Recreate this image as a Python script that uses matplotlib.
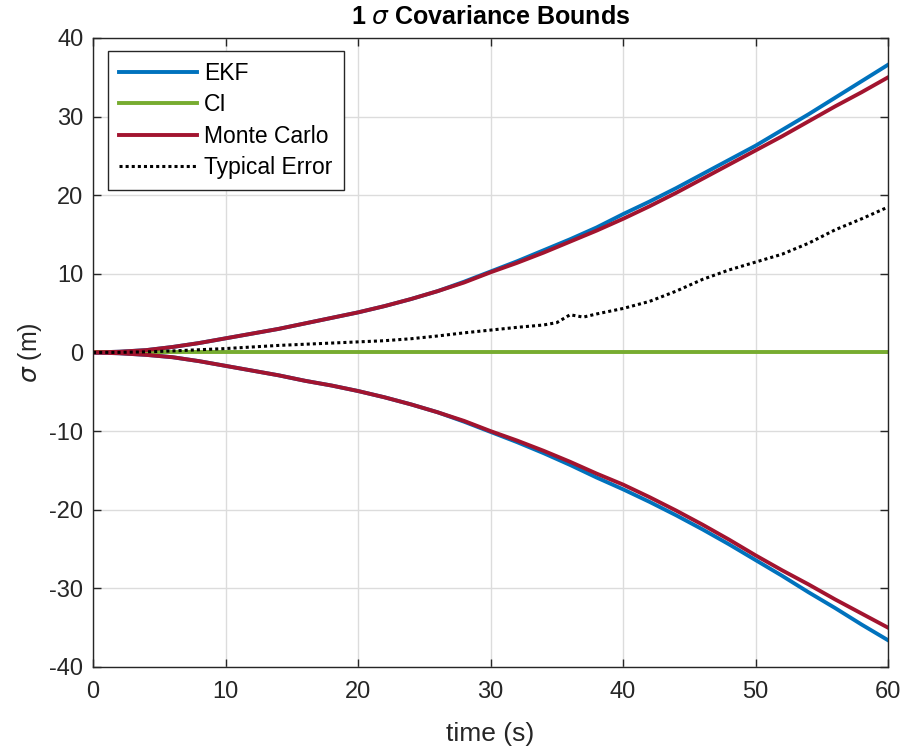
import numpy as np
import matplotlib.pyplot as plt

plt.rcParams['font.family'] = ['Liberation Sans', 'DejaVu Sans']
plt.rcParams['mathtext.fontset'] = 'dejavusans'
plt.rcParams['axes.unicode_minus'] = False

# time grid for the bounds (s)
t = [0, 2, 4, 6, 8, 10, 12, 14, 16, 18, 20, 22, 24, 26, 28, 30,
     32, 34, 36, 38, 40, 42, 44, 46, 48, 50, 52, 54, 56, 58, 60]

ekf_up = [0, 0.1, 0.3, 0.7, 1.2, 1.8, 2.4, 3.0, 3.7, 4.4, 5.1, 5.9, 6.8, 7.8, 9.0, 10.3,
          11.6, 13.0, 14.4, 15.9, 17.6, 19.2, 20.9, 22.7, 24.5, 26.3, 28.3, 30.3, 32.4, 34.5, 36.6]
ekf_lo = [0, -0.1, -0.3, -0.6, -1.1, -1.7, -2.3, -2.9, -3.6, -4.2, -4.9, -5.7, -6.6, -7.6, -8.8, -10.1,
          -11.4, -12.8, -14.3, -15.9, -17.4, -19.0, -20.7, -22.5, -24.4, -26.4, -28.4, -30.5, -32.5, -34.6, -36.6]
mc_up = [0, 0.1, 0.3, 0.7, 1.2, 1.8, 2.4, 3.0, 3.7, 4.4, 5.1, 5.9, 6.8, 7.8, 8.9, 10.2,
         11.4, 12.7, 14.1, 15.5, 17.0, 18.6, 20.3, 22.1, 23.9, 25.7, 27.5, 29.4, 31.3, 33.1, 35.0]
mc_lo = [0, -0.1, -0.3, -0.6, -1.1, -1.7, -2.3, -2.9, -3.6, -4.2, -4.9, -5.7, -6.6, -7.6, -8.7, -10.0,
         -11.2, -12.5, -13.9, -15.4, -16.8, -18.4, -20.1, -21.9, -23.8, -25.8, -27.7, -29.5, -31.4, -33.2, -35.0]
ci = [0] * len(t)

# typical error trace
t_err = [0, 2, 4, 6, 8, 10, 12, 14, 16, 18, 20, 22, 24, 26, 28, 30, 32, 34, 35, 36, 37, 38,
         40, 42, 44, 46, 48, 50, 52, 54, 56, 58, 60]
err = [0, 0.02, 0.08, 0.2, 0.35, 0.5, 0.7, 0.9, 1.05, 1.2, 1.35, 1.5, 1.75, 2.1, 2.5, 2.85,
       3.2, 3.5, 3.8, 4.8, 4.5, 4.9, 5.6, 6.5, 7.8, 9.3, 10.5, 11.5, 12.5, 13.9, 15.6, 17.0, 18.5]

blue = '#0072BD'
green = '#77AC30'
red = '#A2142F'
dark = '#262626'

fig = plt.figure(figsize=(9.05, 7.48), dpi=100)
ax = fig.add_axes([0.1028, 0.1083, 0.8785, 0.8409])

lw = 2.8
ax.plot(t, ekf_up, color=blue, lw=lw, label='EKF')
ax.plot(t, ekf_lo, color=blue, lw=lw)
ax.plot(t, ci, color=green, lw=lw, label='CI')
ax.plot(t, mc_up, color=red, lw=lw, label='Monte Carlo')
ax.plot(t, mc_lo, color=red, lw=lw)
ax.plot(t_err, err, color='black', lw=2.2, ls=(0, (1, 1.0)), label='Typical Error')

ax.set_xlim(0, 60)
ax.set_ylim(-40, 40)
ax.set_xticks(range(0, 61, 10))
ax.set_yticks(range(-40, 41, 10))
ax.grid(True, color='#dcdcdc', lw=1)
ax.set_axisbelow(True)
ax.tick_params(direction='in', top=True, right=True, labelsize=17,
               colors=dark, length=6, width=1)
ax.tick_params(axis='x', pad=10)
ax.tick_params(axis='y', pad=7)
for s in ax.spines.values():
    s.set_color(dark)
    s.set_linewidth(1)

ax.set_title(r'1 $\sigma$ Covariance Bounds', fontsize=18, fontweight='bold', pad=10)
ax.set_xlabel('time (s)', fontsize=19, color=dark, labelpad=14)
ax.set_ylabel(r'$\sigma$ (m)', fontsize=18, color=dark, labelpad=4)

leg = ax.legend(loc='upper left', bbox_to_anchor=(0.013, 0.987), fontsize=16.5,
                fancybox=False, framealpha=1, edgecolor=dark,
                handlelength=3.4, handletextpad=0.3, borderpad=0.5, labelspacing=0.36,
                borderaxespad=0.2)
leg.get_frame().set_linewidth(1)

fig.savefig('out.png', dpi=100)
